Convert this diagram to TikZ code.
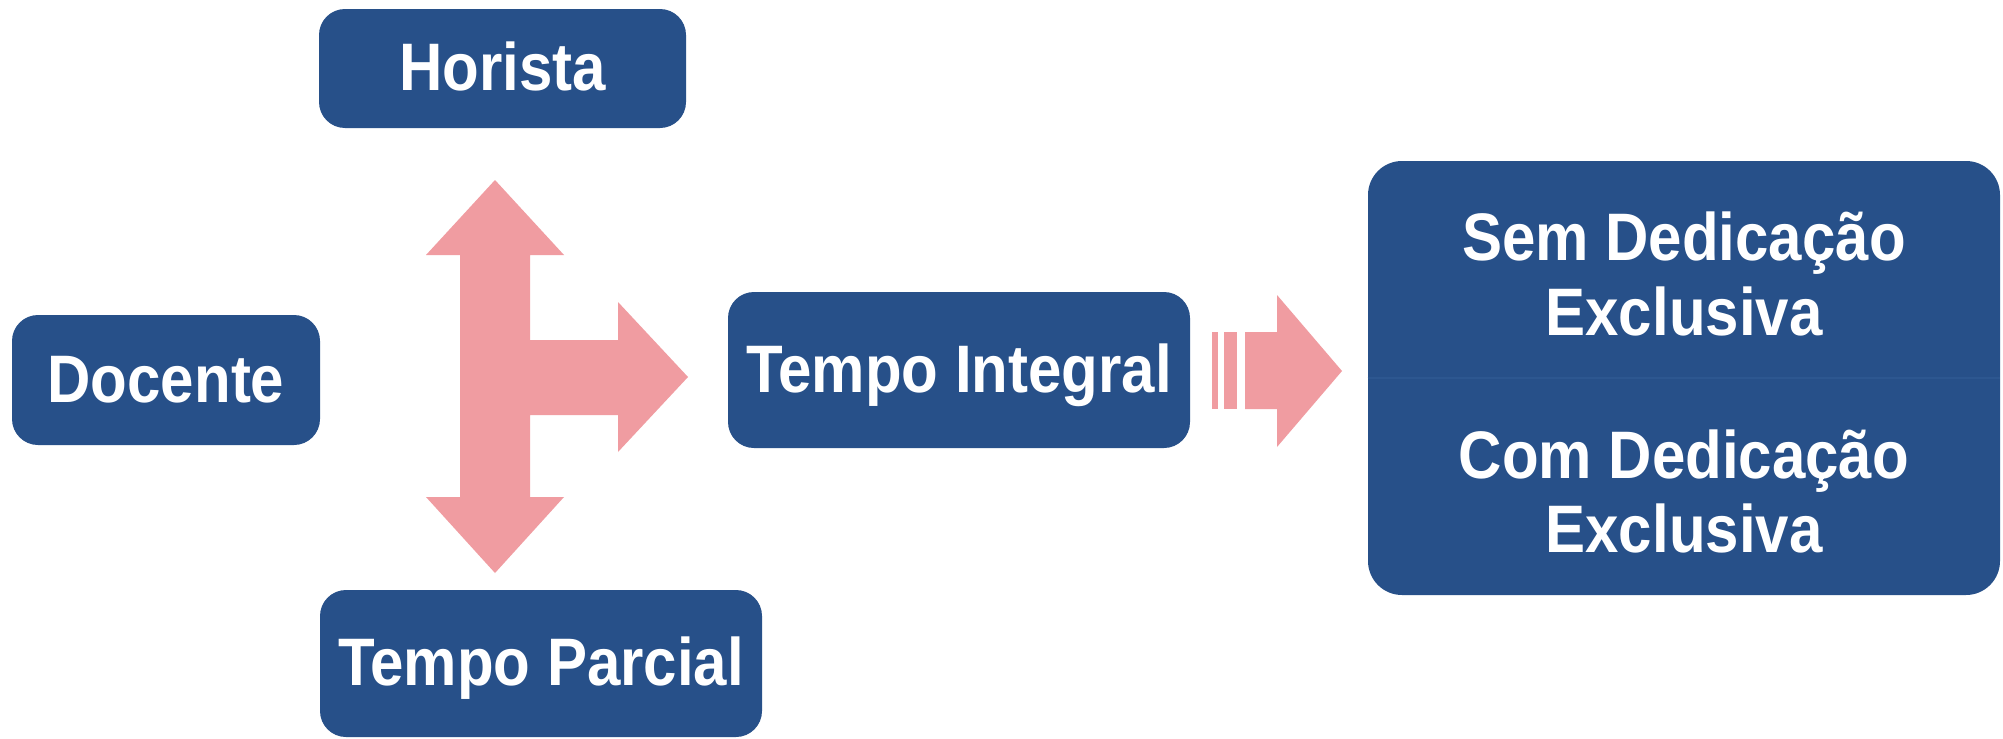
\documentclass[tikz,border=0pt]{standalone}
\usepackage{fontspec}
\newfontfamily\boxfont{Liberation Sans}
\newcommand{\talltext}[1]{\scalebox{1}[1.12]{#1}}
\definecolor{boxblue}{RGB}{39,80,137}
\definecolor{dividerblue}{RGB}{45,87,144}
\definecolor{arrowpink}{RGB}{240,156,161}
\begin{document}
\begin{tikzpicture}[x=0.5pt,y=-0.5pt,
  bluebox/.style={fill=boxblue, rounded corners=13pt, inner sep=0pt},
  boxlabel/.style={text=white, font=\boxfont\bfseries\fontsize{30}{37.5}\selectfont,
    text height=24.2pt, text depth=2pt, inner sep=0pt},
  blockarrow/.style={fill=arrowpink, draw=none}]
\useasboundingbox[fill=white] (0,0) rectangle (2003,739);

% boxes
\node[bluebox, boxlabel, minimum width=183.5pt, minimum height=59.5pt] (horista) at (502.5,68.5) {\talltext{Horista}};
\node[bluebox, boxlabel, minimum width=154pt, minimum height=65pt] (docente) at (166,380) {\talltext{Docente}};
\node[bluebox, boxlabel, minimum width=221pt, minimum height=73.5pt] (parcial) at (541,663.5) {\talltext{Tempo Parcial}};
\node[bluebox, boxlabel, minimum width=231pt, minimum height=78pt] (integral) at (959,370) {\talltext{Tempo Integral}};
\node[bluebox, rounded corners=17pt, minimum width=316pt, minimum height=217pt] (big) at (1684,378) {};
\draw[dividerblue, line width=0.6pt] (big.west) -- (big.east);
\node[boxlabel] (sem1) at (1684,238) {\talltext{Sem Dedicação}};
\node[boxlabel] (sem2) at (1684,313) {\talltext{Exclusiva}};
\node[boxlabel] (com1) at (1684,456) {\talltext{Com Dedicação}};
\node[boxlabel] (com2) at (1684,530) {\talltext{Exclusiva}};

% T-shaped block arrow
\fill[blockarrow] (495,180) -- (564,255) -- (530,255) -- (530,340) -- (618,340) -- (618,302)
  -- (688,377) -- (618,452) -- (618,415) -- (530,415) -- (530,497) -- (564,497)
  -- (495,573) -- (426,497) -- (460,497) -- (460,255) -- (426,255) -- cycle;

% striped block arrow
\fill[blockarrow] (1212,332) rectangle (1218,409);
\fill[blockarrow] (1224,332) rectangle (1237,409);
\fill[blockarrow] (1245,332) -- (1277,332) -- (1277,295) -- (1342,371) -- (1277,447)
  -- (1277,409) -- (1245,409) -- cycle;
\end{tikzpicture}
\end{document}
